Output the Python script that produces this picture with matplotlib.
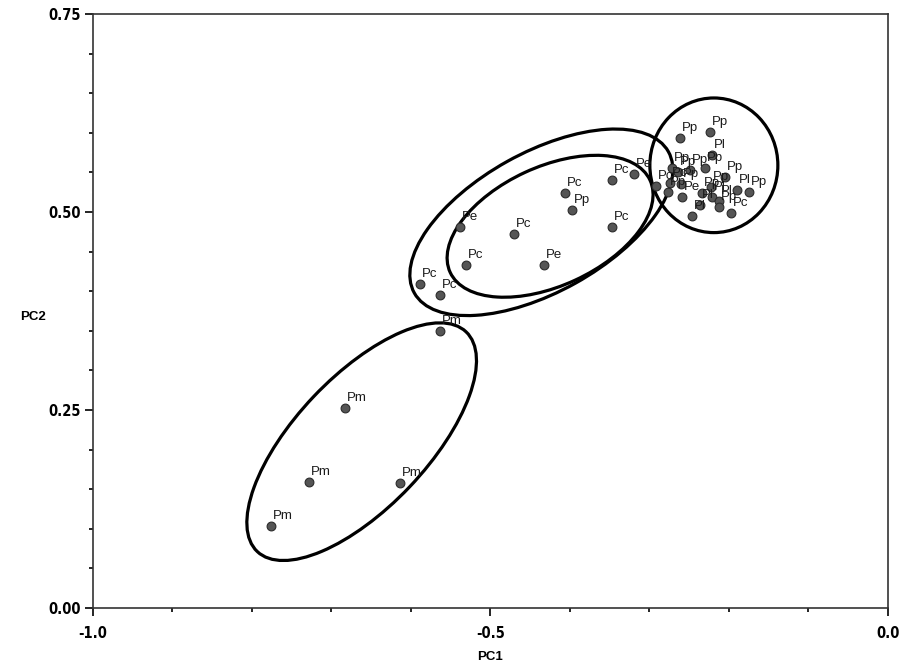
import matplotlib
matplotlib.use("Agg")
from matplotlib import pyplot as plt
from matplotlib.patches import Ellipse
from matplotlib.ticker import MultipleLocator, FixedLocator

# PCA scores
labels = ["Pm", "Pm", "Pm", "Pm", "Pm",
          "Pe", "Pc", "Pc", "Pe", "Pc", "Pc", "Pc", "Pp", "Pc", "Pe", "Pc",
          "Pp", "Pp", "Pl", "Pp", "Pp", "Pp", "Pp", "Pc", "Pc", "Pp", "Pp",
          "Pe", "Pp", "Pp", "Pl", "Pl", "Pl", "Pp", "Pc", "Pl", "Pl", "Pp", "Pp"]
pc1 = [-0.564, -0.683, -0.728, -0.614, -0.776,
       -0.538, -0.471, -0.531, -0.433, -0.589, -0.564, -0.406, -0.397, -0.347, -0.320, -0.347,
       -0.262, -0.224, -0.221, -0.272, -0.264, -0.230, -0.205, -0.292, -0.274, -0.277, -0.260,
       -0.259, -0.223, -0.234, -0.221, -0.213, -0.190, -0.175, -0.198, -0.237, -0.247, -0.213, -0.249]
pc2 = [0.350, 0.253, 0.159, 0.158, 0.103,
       0.481, 0.472, 0.433, 0.433, 0.409, 0.395, 0.524, 0.503, 0.541, 0.548, 0.481,
       0.593, 0.601, 0.572, 0.556, 0.551, 0.556, 0.544, 0.533, 0.537, 0.525, 0.535,
       0.519, 0.532, 0.524, 0.519, 0.514, 0.528, 0.525, 0.499, 0.509, 0.495, 0.506, 0.553]

# group ellipses
ell_x = [-0.662, -0.436, -0.425, -0.219]
ell_y = [0.210, 0.487, 0.482, 0.559]
ell_w = [0.382, 0.366, 0.277, 0.161]
ell_h = [0.166, 0.176, 0.150, 0.170]
ell_ang = [46.6, 29.2, 24.9, 0.0]

fig = plt.figure(figsize=(9.06, 6.71), dpi=100)
ax = fig.add_axes([0.1026, 0.0939, 0.8775, 0.8852])

ax.scatter(pc1, pc2, s=40, color="#555555", edgecolors="#2b2b2b", linewidths=0.8, zorder=3)
for x, y, lab in zip(pc1, pc2, labels):
    ax.annotate(lab, (x, y), xytext=(2, 7), textcoords="offset pixels",
                ha="left", va="baseline", fontsize=9.5, color="#1a1a1a",
                family=["Liberation Sans", "DejaVu Sans"], zorder=4)

for cx, cy, w, h, a in zip(ell_x, ell_y, ell_w, ell_h, ell_ang):
    ax.add_patch(Ellipse((cx, cy), w, h, angle=a, fill=False, edgecolor="black",
                         linewidth=2.3, zorder=2))

ax.set_xlim(-1.0, 0.0)
ax.set_ylim(0.0, 0.75)
ax.xaxis.set_major_locator(FixedLocator([-1.0, -0.5, 0.0]))
ax.yaxis.set_major_locator(FixedLocator([0.0, 0.25, 0.5, 0.75]))
ax.xaxis.set_minor_locator(MultipleLocator(0.1))
ax.yaxis.set_minor_locator(MultipleLocator(0.05))
ax.set_xticklabels(["-1.0", "-0.5", "0.0"])
ax.set_yticklabels(["0.00", "0.25", "0.50", "0.75"])
ax.tick_params(which="major", direction="out", length=6, width=1.2, pad=3)
ax.tick_params(axis="x", which="major", pad=7)
ax.tick_params(which="minor", direction="out", length=3, width=1.2)
for t in ax.get_xticklabels() + ax.get_yticklabels():
    t.set_family(["DejaVu Sans"])
    t.set_fontstretch("condensed")
    t.set_fontweight("bold")
    t.set_fontsize(10.5)
for sp in ax.spines.values():
    sp.set_linewidth(1.2)
    sp.set_color("#333333")

ax.set_xlabel("PC1", fontsize=9.5, fontweight="bold", family=["Liberation Sans", "DejaVu Sans"])
ax.xaxis.set_label_coords(0.5, -0.072)
ax.set_ylabel("PC2", fontsize=9.5, fontweight="bold", rotation=0,
              family=["Liberation Sans", "DejaVu Sans"])
ax.yaxis.set_label_coords(-0.075, 0.48)

fig.savefig("out.png", dpi=100)
